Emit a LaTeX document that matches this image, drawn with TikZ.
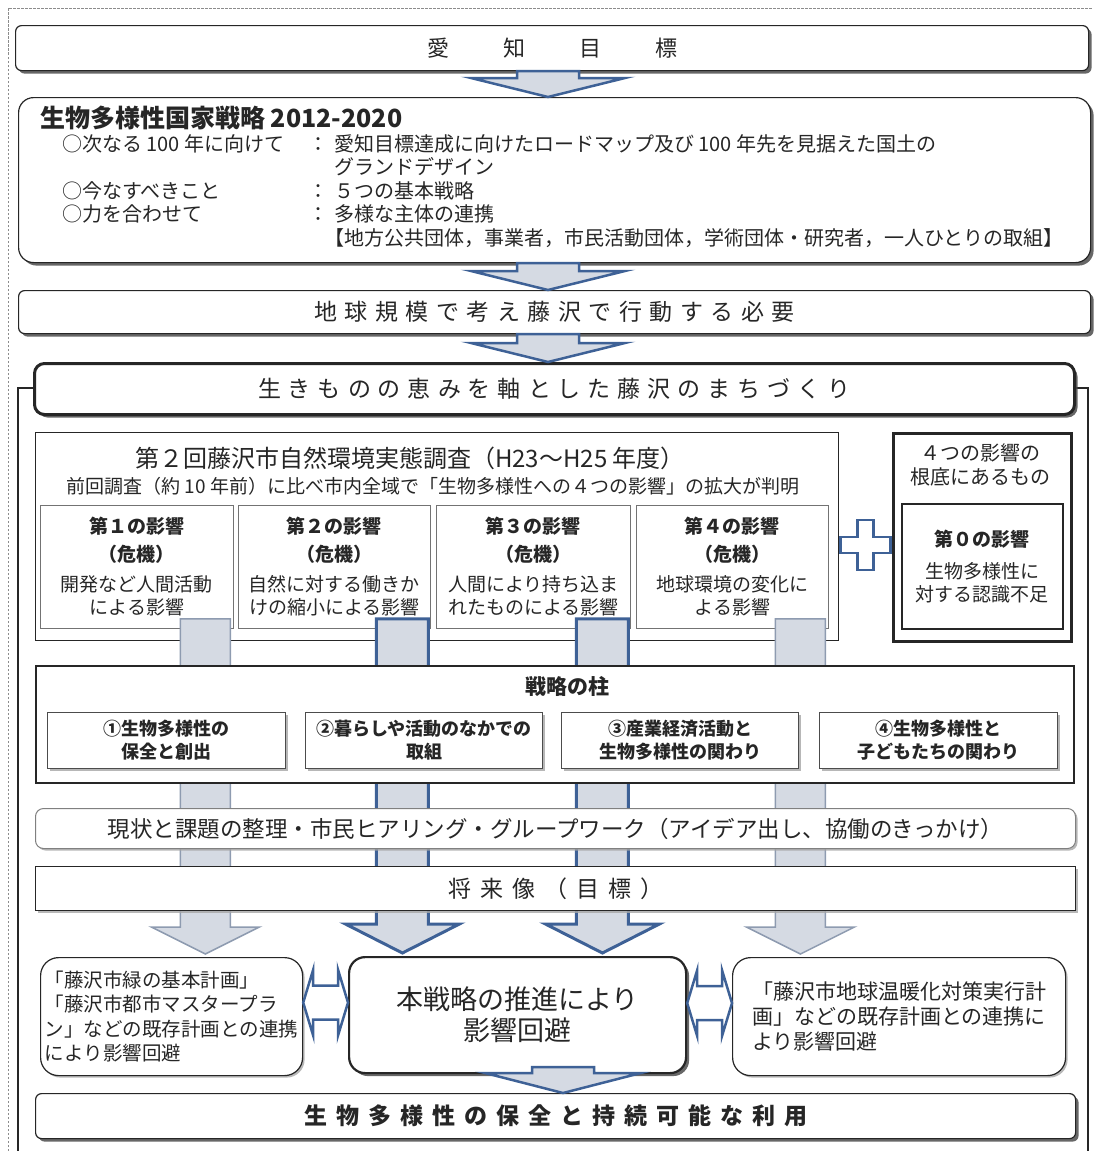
\documentclass[tikz,border=0pt]{standalone}
\usepackage{fontspec}
\setmainfont{Noto Sans CJK JP}
\usepackage{tikz}
\usetikzlibrary{calc,shadows}

\definecolor{arrowblue}{HTML}{3E6196}
\definecolor{arrowgray}{HTML}{D5DAE3}
\definecolor{bargray}{HTML}{8E9BB0}

\newcommand\fsz[2]{\fontsize{#1}{#2}\selectfont}
% letter spaced text
\newcommand\spaced[2]{\def\spgap{#1}\spacedaux#2\relax}
\def\spacedaux#1{\ifx\relax#1\unskip\else#1\hspace{\spgap}\expandafter\spacedaux\fi}
% block arrow pointing down: top, tip, half shaft, half head, head length
\newcommand\downblock[6][]{%
  \draw[#1] let \p1=#2, \p2=#3 in
    (\x2-#4,\y1) -- (\x2-#4,\y2+#6) -- (\x2-#5,\y2+#6) -- (\x2,\y2)
    -- (\x2+#5,\y2+#6) -- (\x2+#4,\y2+#6) -- (\x2+#4,\y1) -- cycle;}
% block arrow both ways: left tip, right tip, half shaft, half head, head length
\newcommand\lrblock[6][]{%
  \draw[#1] let \p1=#2, \p2=#3 in
    (\x1,\y1) -- (\x1+#6,\y1+#5) -- (\x1+#6,\y1+#4) -- (\x2-#6,\y1+#4)
    -- (\x2-#6,\y1+#5) -- (\x2,\y1) -- (\x2-#6,\y1-#5) -- (\x2-#6,\y1-#4)
    -- (\x1+#6,\y1-#4) -- (\x1+#6,\y1-#5) -- cycle;}

\begin{document}
\begin{tikzpicture}[x=1pt, y=-1pt,
    every node/.style={text=black!85, inner sep=0pt},
    wh/.style 2 args={minimum width=#1pt, minimum height=#2pt},
    boxshadow/.style={drop shadow={shadow xshift=3pt, shadow yshift=-3pt, fill=black!70, opacity=.85}},
    lightshadow/.style={drop shadow={shadow xshift=2pt, shadow yshift=-2pt, fill=black!35, opacity=.8}},
    rbox/.style={draw=black!85, fill=white, line width=1.2pt, rounded corners=6pt, anchor=north west},
    plain/.style={draw=black!85, fill=white, line width=1.2pt, anchor=north west},
    impact/.style={draw=black!55, fill=white, line width=.9pt, anchor=north west, align=center, font=\fsz{19}{23}},
    pbox/.style={draw=black!70, fill=white, line width=1pt, anchor=north west, align=center,
                 font=\bfseries\fsz{18}{23}, lightshadow},
    bigarrow/.style={draw=arrowblue, fill=arrowgray, line width=2.5pt},
    colthin/.style={draw=bargray, fill=arrowgray, line width=1.5pt},
    colthick/.style={draw=arrowblue, fill=arrowgray, line width=3pt},
    twoway/.style={draw=arrowblue, fill=white, line width=2.5pt},
    bigframe/.style={draw=black!85, line width=2.5pt},
    outline/.style={draw=black!45, line width=.8pt, dash pattern=on 2.5pt off 1.5pt}]
  \useasboundingbox (0,0) rectangle (1093,1151);
  \coordinate (dashBL) at (8,1151);
  \coordinate (dashTR) at (1093,8);
  \coordinate (frameBL) at (18,1151);
  \coordinate (frameBR) at (1088,1151);
  \coordinate (axis) at (548,0);
  \coordinate (axis2) at (563,0);
  \draw[outline] (dashBL) |- (dashTR);

  % upper chain
  \node[rbox, boxshadow, wh={1073}{45}] (aichi) at (15,25) {\fsz{22}{26}\spaced{54pt}{愛知目標}};
  \node[rbox, boxshadow, rounded corners=15pt, wh={1072}{165}] (kokka) at (18,97) {};
  \node[anchor=west, font=\bfseries\fsz{25}{28}] (kokkattl) at (40,118) {生物多様性国家戦略 2012-2020};
  \node[anchor=north west, font=\fsz{20}{22}] (kokkalist) at (62,134) {%
    \begin{tabular}{@{}p{246pt}@{}p{26pt}@{}l@{}}
      ○次なる 100 年に向けて & ： & 愛知目標達成に向けたロードマップ及び 100 年先を見据えた国土の\\
        & & グランドデザイン\\
      ○今なすべきこと & ： & ５つの基本戦略\\
      ○力を合わせて & ： & 多様な主体の連携\\
        & & \hspace*{-10pt}【地方公共団体，事業者，市民活動団体，学術団体・研究者，一人ひとりの取組】
    \end{tabular}};
  \node[rbox, boxshadow, wh={1072}{43}] (chikyu) at (18,290) {\fsz{23}{26}\spaced{7.5pt}{地球規模で考え藤沢で行動する必要}};
  \draw[bigframe] (33,388) -| (frameBL);
  \draw[bigframe] (1073,388) -| (frameBR);
  \node[rbox, boxshadow, line width=3pt, rounded corners=10pt, wh={1040}{51}] (machi) at (33,362)
    {\fsz{23}{26}\spaced{7pt}{生きものの恵みを軸とした藤沢のまちづくり}};
  \downblock[bigarrow]{(axis |- aichi.south)}{(axis |- kokka.north)}{31pt}{77pt}{19pt}
  \downblock[bigarrow]{(axis |- kokka.south)}{(axis |- chikyu.north)}{31pt}{77pt}{19pt}
  \downblock[bigarrow]{(axis |- chikyu.south)}{(axis |- machi.north)}{31pt}{77pt}{19pt}

  % survey and the four impacts
  \node[plain, wh={803}{208}] (survey) at (35,432) {};
  \node[font=\fsz{24}{28}] (surveyttl) at (410,458) {第２回藤沢市自然環境実態調査（H23～H25 年度）};
  \node[font=\fsz{19}{22}] (surveysub) at (433,486) {前回調査（約 10 年前）に比べ市内全域で「生物多様性への４つの影響」の拡大が判明};
  \node[impact, wh={193}{123}] (imp1) at (40,505)
    {\textbf{第１の影響}\\[5pt]\textbf{（危機）}\\[7pt]開発など人間活動\\による影響};
  \node[impact, wh={192}{123}] (imp2) at (238,505)
    {\textbf{第２の影響}\\[5pt]\textbf{（危機）}\\[7pt]自然に対する働きか\\けの縮小による影響};
  \node[impact, wh={194}{123}] (imp3) at (436,505)
    {\textbf{第３の影響}\\[5pt]\textbf{（危機）}\\[7pt]人間により持ち込ま\\れたものによる影響};
  \node[impact, wh={192}{123}] (imp4) at (636,505)
    {\textbf{第４の影響}\\[5pt]\textbf{（危機）}\\[7pt]地球環境の変化に\\よる影響};
  \node[plain, line width=2.5pt, wh={178}{208}] (root) at (892,432) {};
  \node[align=center, font=\fsz{20}{24}] (roottxt) at (980,465) {４つの影響の\\根底にあるもの};
  \node[plain, line width=1.8pt, wh={161}{125}, align=center, font=\fsz{19}{23}] (zero) at (901,503)
    {\textbf{第０の影響}\\[9pt]生物多様性に\\対する認識不足};
  \coordinate (plus) at ($(survey.east)!0.5!(root.west)+(0,8)$);
  \draw[twoway, shift={(plus)}] (-8,-25) -- (8,-25) -- (8,-8) -- (25,-8) -- (25,8) -- (8,8)
    -- (8,25) -- (-8,25) -- (-8,8) -- (-25,8) -- (-25,-8) -- (-8,-8) -- cycle;

  % lower boxes (placed first so the columns can end on them)
  \node[rbox, lightshadow, rounded corners=18pt, wh={262}{118}, align=left, font=\fsz{19.5}{24.5}] (ryokuchi) at (40,957)
    {「藤沢市緑の基本計画」\\「藤沢市都市マスタープラ\\ン」などの既存計画との連携\\により影響回避};
  \node[rbox, boxshadow, line width=2.2pt, rounded corners=16pt, wh={337}{116}, align=center, font=\fsz{27}{31}] (suishin) at (348,956)
    {本戦略の推進により\\影響回避};
  \node[rbox, lightshadow, rounded corners=18pt, wh={333}{118}, align=left, font=\fsz{21}{25}] (ondanka) at (732,957)
    {「藤沢市地球温暖化対策実行計\\画」などの既存計画との連携に\\より影響回避};

  % columns from the impacts down to the lower boxes
  \coordinate (c1) at ($(imp1.south east)+(-28.5,-10)$);
  \coordinate (c2) at ($(imp2.south east)+(-28.5,-10)$);
  \coordinate (c3) at ($(imp3.south east)+(-28.5,-10)$);
  \coordinate (c4) at ($(imp4.south east)+(-28.5,-10)$);
  \downblock[colthin]{(c1)}{($(c1 |- ryokuchi.north)+(0,-3)$)}{25pt}{54pt}{27pt}
  \downblock[colthick]{(c2)}{($(c2 |- suishin.north)+(0,-3)$)}{26pt}{57pt}{29pt}
  \downblock[colthick]{(c3)}{($(c3 |- suishin.north)+(0,-3)$)}{26pt}{57pt}{29pt}
  \downblock[colthin]{(c4)}{($(c4 |- ondanka.north)+(0,-3)$)}{25pt}{54pt}{27pt}

  % strategy pillars
  \node[plain, line width=1.5pt, wh={1038}{117}] (pillar) at (35,665) {};
  \node[font=\bfseries\fsz{21}{24}] (pillarttl) at (567,686) {戦略の柱};
  \node[pbox, wh={238}{56}] (p1) at (47,712) {①生物多様性の\\保全と創出};
  \node[pbox, wh={237}{56}] (p2) at (305,712) {②暮らしや活動のなかでの\\取組};
  \node[pbox, wh={237}{56}] (p3) at (561,712) {③産業経済活動と\\生物多様性の関わり};
  \node[pbox, wh={238}{56}] (p4) at (819,712) {④生物多様性と\\子どもたちの関わり};
  \node[rbox, lightshadow, draw=black!50, line width=1pt, rounded corners=8pt, wh={1040}{40}] (work) at (35,808)
    {\fsz{22.5}{26}現状と課題の整理・市民ヒアリング・グループワーク（アイデア出し、協働のきっかけ）};
  \node[plain, lightshadow, wh={1040}{44}] (future) at (35,866) {\fsz{23}{26}\spaced{9pt}{将来像（目標）}};

  % two way links and the last step
  \lrblock[twoway]{($(ryokuchi.east)+(0,-14)$)}{($(suishin.west)+(0,-12)$)}{17pt}{33pt}{10pt}
  \lrblock[twoway]{($(suishin.east)+(0,-12)$)}{($(ondanka.west)+(0,-14)$)}{17pt}{33pt}{10pt}
  \node[rbox, boxshadow, wh={1040}{45}] (goal) at (35,1093)
    {\bfseries\fsz{23}{26}\spaced{9pt}{生物多様性の保全と持続可能な利用}};
  \downblock[bigarrow]{($(axis2 |- suishin.south)+(0,-7)$)}{(axis2 |- goal.north)}{31pt}{78pt}{20pt}
\end{tikzpicture}
\end{document}
